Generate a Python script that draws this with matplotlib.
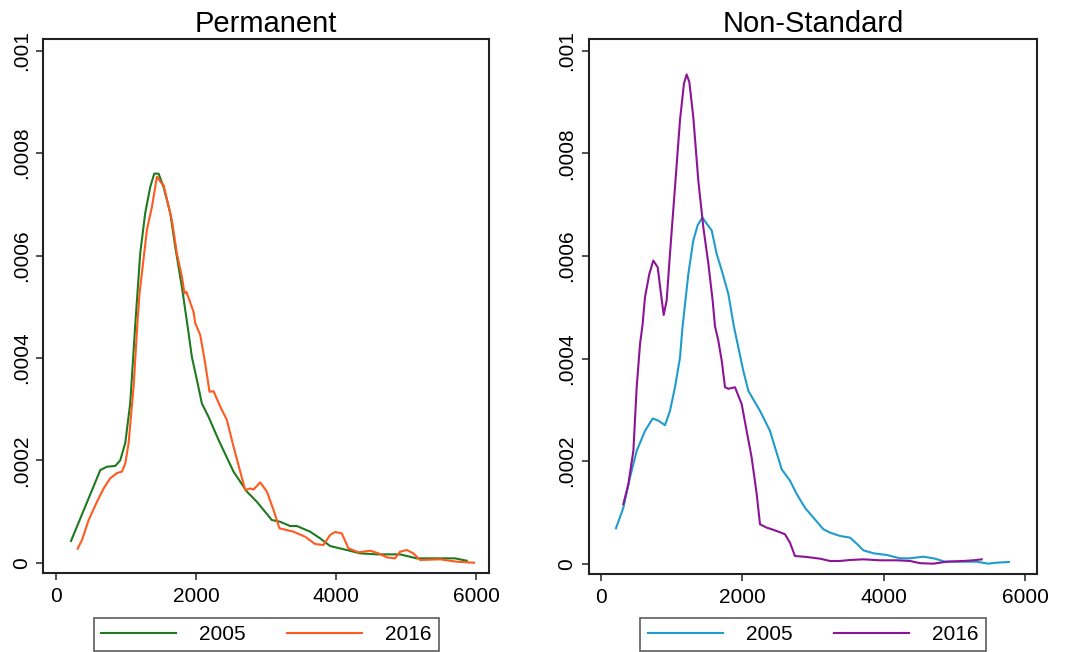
import numpy as np
import matplotlib.pyplot as plt

plt.rcParams['font.family'] = ['Liberation Sans', 'DejaVu Sans']

# Permanent contracts, kernel density of wages
perm_2005_x = [210, 629, 724, 843, 914, 986, 1057, 1129, 1200, 1271, 1343, 1400, 1462,
               1533, 1629, 1700, 1795, 1881, 1938, 2010, 2081, 2176, 2319, 2533, 2724,
               2867, 3081, 3200, 3343, 3438, 3629, 3771, 3914, 4152, 4343, 4581, 4914,
               5152, 5390, 5700, 5867]
perm_2005_y = [0.0000424, 0.000181, 0.0001875, 0.000189, 0.0002, 0.000234, 0.000312,
               0.000466, 0.000605, 0.000683, 0.000734, 0.00076, 0.00076, 0.000734,
               0.000683, 0.000617, 0.000539, 0.000458, 0.000402, 0.000357, 0.000311,
               0.000285, 0.00024, 0.000178, 0.000139, 0.000119, 0.0000834, 0.00008,
               0.0000717, 0.0000717, 0.0000606, 0.0000476, 0.0000326, 0.0000248,
               0.0000183, 0.0000163, 0.0000163, 0.0000085, 0.0000085, 0.0000085,
               0.0000039]

perm_2016_x = [305, 367, 462, 581, 676, 771, 867, 938, 986, 1033, 1105, 1162, 1190, 1295,
               1367, 1438, 1500, 1533, 1652, 1724, 1795, 1833, 1860, 1962, 1986, 2057,
               2129, 2190, 2248, 2343, 2438, 2533, 2629, 2700, 2771, 2820, 2914, 3010,
               3105, 3190, 3390, 3557, 3700, 3819, 3914, 3986, 4081, 4176, 4319, 4486,
               4605, 4724, 4843, 4914, 5010, 5105, 5200, 5486, 5724, 5971]
perm_2016_y = [0.0000274, 0.0000443, 0.0000834, 0.000119, 0.000145, 0.000165, 0.000175,
               0.000178, 0.000194, 0.000233, 0.000344, 0.000474, 0.000526, 0.00065,
               0.000695, 0.000754, 0.000742, 0.000738, 0.000669, 0.000604, 0.000559,
               0.000526, 0.000529, 0.00049, 0.000468, 0.000445, 0.000389, 0.000334,
               0.000335, 0.000305, 0.000279, 0.000227, 0.000178, 0.000142, 0.000145,
               0.000143, 0.000157, 0.000139, 0.000103, 0.0000672, 0.0000606, 0.0000508,
               0.0000365, 0.0000346, 0.0000541, 0.00006, 0.0000574, 0.0000281, 0.0000203,
               0.0000234, 0.0000183, 0.0000105, 0.0000085, 0.0000215, 0.0000248,
               0.0000183, 0.0000053, 0.0000066, 0.000002, 0.0]

# Non-standard contracts
nons_2005_x = [212, 316, 410, 505, 623, 731, 811, 906, 976, 1047, 1118, 1151, 1236, 1306,
               1368, 1434, 1495, 1566, 1637, 1708, 1802, 1880, 1943, 2014, 2085, 2250,
               2391, 2557, 2674, 2769, 2887, 3005, 3146, 3240, 3382, 3524, 3618, 3712,
               3854, 4043, 4231, 4373, 4561, 4727, 4868, 5127, 5316, 5481, 5599, 5773]
nons_2005_y = [0.0000691, 0.000109, 0.000168, 0.00022, 0.000259, 0.000283, 0.000279,
               0.00027, 0.000298, 0.000344, 0.000402, 0.000458, 0.000565, 0.00063,
               0.00066, 0.000675, 0.000663, 0.00065, 0.000604, 0.000572, 0.000526,
               0.000463, 0.000422, 0.000376, 0.000337, 0.000298, 0.000259, 0.000184,
               0.000162, 0.000136, 0.000109, 0.0000898, 0.0000672, 0.0000606, 0.0000541,
               0.0000508, 0.0000391, 0.0000261, 0.0000203, 0.000017, 0.0000105,
               0.0000105, 0.0000137, 0.0000098, 0.0000039, 0.0000039, 0.0000039, 0.0,
               0.000002, 0.0000033]

nons_2016_x = [316, 387, 458, 505, 552, 588, 623, 684, 740, 802, 849, 887, 929, 976, 1047,
               1118, 1174, 1212, 1250, 1306, 1377, 1448, 1519, 1580, 1613, 1660, 1708,
               1755, 1802, 1896, 1991, 2061, 2132, 2203, 2250, 2344, 2415, 2509, 2603,
               2674, 2745, 2910, 3099, 3240, 3382, 3524, 3712, 3948, 4184, 4373, 4514,
               4702, 4891, 5127, 5269, 5387]
nons_2016_y = [0.000116, 0.000155, 0.00022, 0.000344, 0.000428, 0.000466, 0.00052,
               0.000565, 0.000591, 0.000578, 0.000526, 0.000485, 0.000513, 0.000604,
               0.000734, 0.000865, 0.000936, 0.000954, 0.000939, 0.000871, 0.000747,
               0.000656, 0.000585, 0.000513, 0.000463, 0.000435, 0.000396, 0.000344,
               0.000341, 0.000344, 0.000311, 0.000259, 0.000207, 0.000136, 0.0000769,
               0.0000703, 0.0000672, 0.0000625, 0.0000574, 0.000041, 0.000015,
               0.0000131, 0.0000098, 0.0000053, 0.0000053, 0.0000072, 0.0000085,
               0.0000066, 0.0000066, 0.0000053, 0.000001, 0.0, 0.0000039, 0.0000053,
               0.0000066, 0.0000085]

titles = ['Permanent', 'Non-Standard']
years = ['2005', '2016']
xticks = [0, 2000, 4000, 6000]
yticks = [0, 0.0002, 0.0004, 0.0006, 0.0008, 0.001]
ytick_labels = ['0', '.0002', '.0004', '.0006', '.0008', '.001']

W, H = 1067, 652
fig = plt.figure(figsize=(W / 100, H / 100), dpi=100)

# axes boxes in pixels: left, top, right, bottom
boxes = [(43.3, 39, 489.3, 573), (588.7, 39, 1037.3, 574)]
xlims = [(-186, 6190), (-174, 6174)]
legend_cx = [266.5, 813]
series = [[(perm_2005_x, perm_2005_y, '#1f7a1f'), (perm_2016_x, perm_2016_y, '#ff5a1f')],
          [(nons_2005_x, nons_2005_y, '#1f9ccb'), (nons_2016_x, nons_2016_y, '#8c1496')]]

for i in range(2):
    l, t, r, b = boxes[i]
    ax = fig.add_axes([l / W, 1 - b / H, (r - l) / W, (b - t) / H])
    for j in range(2):
        xs, ys, c = series[i][j]
        ax.plot(xs, ys, color=c, lw=1.5, label=years[j])
    ax.set_xlim(*xlims[i])
    ax.set_ylim(-0.0000201, 0.001023)
    ax.set_xticks(xticks)
    ax.set_xticklabels([str(x) for x in xticks])
    ax.set_yticks(yticks)
    ax.set_yticklabels(ytick_labels, rotation=90, va='center')
    ax.tick_params(axis='both', labelsize=15, length=5, width=1.2, color='#333333')
    ax.tick_params(axis='x', pad=5)
    ax.tick_params(axis='y', pad=4)
    for sp in ax.spines.values():
        sp.set_linewidth(1.5)
        sp.set_color('#222222')
    ax.set_title(titles[i], fontsize=21, pad=5)
    leg = ax.legend(loc='upper center', bbox_to_anchor=(legend_cx[i] / W, 1 - 617.7 / H),
                    bbox_transform=fig.transFigure, ncol=2, fontsize=15,
                    frameon=True, fancybox=False, handlelength=3.6,
                    handletextpad=1.1, columnspacing=2.0, borderpad=0.35,
                    borderaxespad=0)
    leg.get_frame().set_edgecolor('#333333')
    leg.get_frame().set_linewidth(1.2)

fig.savefig('out.png', dpi=100)
